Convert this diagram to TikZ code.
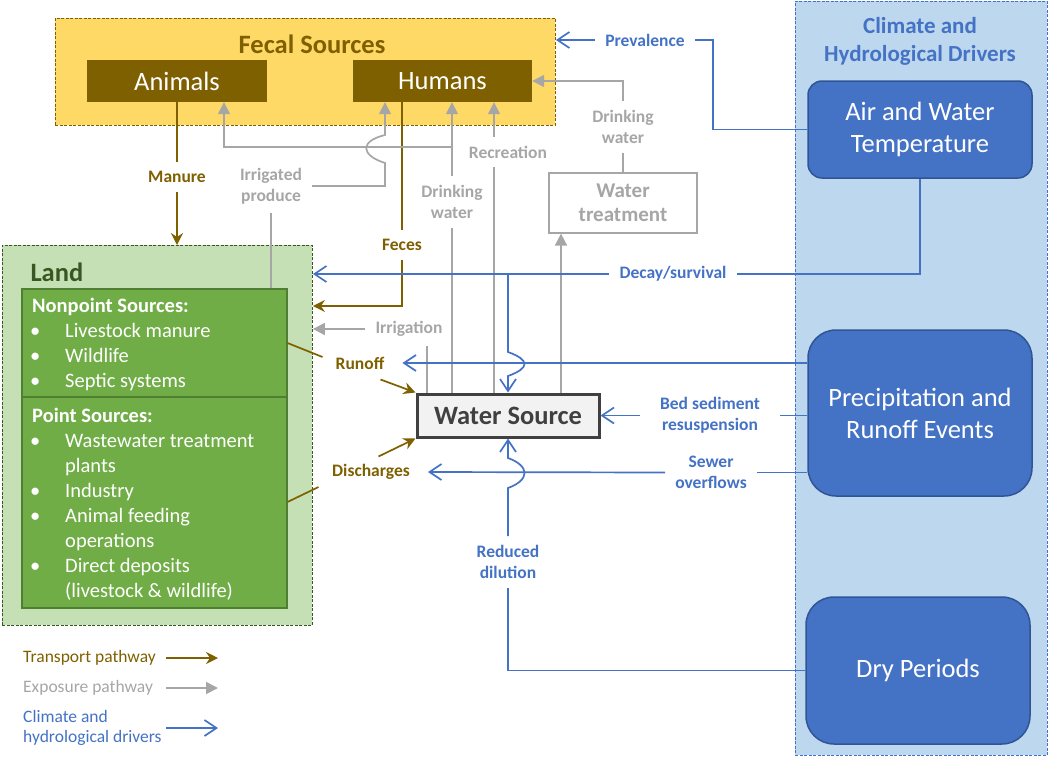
\documentclass[tikz,border=0pt]{standalone}
\usepackage{fontspec}
\setmainfont{Carlito}
\usetikzlibrary{arrows.meta,positioning,calc}

\definecolor{fecalbrown}{HTML}{7F6000}
\definecolor{fecalfill}{HTML}{FFD966}
\definecolor{landfill}{HTML}{C5E0B4}
\definecolor{landgreen}{HTML}{70AD47}
\definecolor{landedge}{HTML}{507E32}
\definecolor{landdark}{HTML}{385723}
\definecolor{expgray}{HTML}{A6A6A6}
\definecolor{driverblue}{HTML}{4472C4}
\definecolor{driveredge}{HTML}{2F5597}
\definecolor{climfill}{HTML}{BDD7EE}
\definecolor{wsfill}{HTML}{F2F2F2}
\definecolor{wsedge}{HTML}{404040}

\newcommand{\fsize}[2]{\fontsize{#1}{#2}\selectfont}
\newcommand{\bul}{\makebox[33pt][l]{\hspace{-2pt}\textbullet}}

\tikzset{
  group/.style={draw, dash pattern=on 3pt off 1.5pt, line width=0.9pt, anchor=north west, inner sep=0pt},
  source/.style={fill=fecalbrown, text=white, font=\fsize{26.5}{30}, minimum width=180pt, minimum height=42pt, inner sep=0pt},
  listbox/.style={fill=landgreen, draw=landedge, line width=1.5pt, anchor=north west, minimum width=265pt, inner sep=0pt},
  listtext/.style={anchor=north west, text=white, font=\fsize{20.5}{25}, align=left, inner sep=0pt},
  driverbox/.style={fill=driverblue, draw=driveredge, line width=1.5pt, text=white, font=\fsize{26.5}{32}, align=center, minimum width=224pt, inner sep=0pt},
  lbl/.style={font=\fsize{17.5}{21}\bfseries, align=center, inner xsep=10pt, inner ysep=9pt},
  legend/.style={anchor=west, font=\fsize{17.5}{20}, align=left, inner sep=0pt},
  transport/.style={draw=fecalbrown, line width=1.7pt, >={Stealth[length=12pt,width=12pt,inset=4pt]}},
  exposure/.style={draw=expgray, line width=1.7pt, >={Triangle[length=12pt,width=12pt]}},
  driver/.style={draw=driverblue, line width=1.7pt, >={Straight Barb[length=12pt,width=16pt]}}
}

\begin{document}
\begin{tikzpicture}[x=1pt,y=-1pt]
\useasboundingbox (0,0) rectangle (1050,758);

% group boxes
\node[group, draw=fecalbrown, fill=fecalfill, minimum width=500pt, minimum height=107pt] (fecal) at (55,18) {};
\node[group, draw=landdark, fill=landfill, minimum width=310pt, minimum height=380pt] (land) at (2,245) {};
\node[group, draw=driverblue, fill=climfill, minimum width=252pt, minimum height=754pt] (climate) at (795,1) {};

% fecal sources
\node[font=\fsize{26.5}{30}\bfseries, text=fecalbrown] (fecaltitle) at (312,44) {Fecal Sources};
\node[source] (animals) at (177,81) {Animals};
\node[source, minimum width=179pt] (humans) at (442.5,81) {Humans};

% land
\node[font=\fsize{26.5}{30}\bfseries, text=landdark, anchor=west] (landtitle) at (27,272) {Land};
\node[listbox, minimum height=108pt] (nps) at (21,288) {};
\node[listbox, minimum height=211pt] (ps) at (21,396) {};
\node[listtext] (npstext) at (32,297.5) {\textbf{Nonpoint Sources:}\\
  \bul Livestock manure\\ \bul Wildlife\\ \bul Septic systems};
\node[listtext] (pstext) at (32,407.5) {\textbf{Point Sources:}\\
  \bul Wastewater treatment\\ \hspace*{33pt}plants\\ \bul Industry\\
  \bul Animal feeding\\ \hspace*{33pt}operations\\ \bul Direct deposits\\
  \hspace*{33pt}(livestock \& wildlife)};

% water
\node[draw=wsedge, fill=wsfill, line width=3pt, minimum width=182pt, minimum height=43pt, inner sep=0pt,
  font=\fsize{26.5}{30}\bfseries, text=wsedge] (ws) at (508,415.5) {Water Source};
\node[draw=expgray, fill=white, line width=1.2pt, minimum width=148pt, minimum height=60pt, inner sep=0pt,
  align=center, font=\fsize{21}{24}\bfseries, text=expgray] (treat) at (623,203) {Water\\treatment};

% drivers
\node[font=\fsize{23}{28}\bfseries, text=driverblue, align=center] (climtitle) at (920,41) {Climate and\\Hydrological Drivers};
\node[driverbox, minimum height=97pt, rounded corners=14pt] (air) at (920,129.5) {Air and Water\\Temperature};
\node[driverbox, minimum height=166pt, rounded corners=28pt] (precip) at (920,413) {Precipitation and\\Runoff Events};
\node[driverbox, minimum height=147pt, rounded corners=28pt] (dry) at (918,670.5) {Dry Periods};

% pathway labels
\node[lbl, text=fecalbrown] (manure) at (177,177) {Manure};
\node[lbl, text=fecalbrown] (feces) at (402,245) {Feces};
\node[lbl, text=fecalbrown] (runoff) at (360,363) {Runoff};
\node[lbl, text=fecalbrown] (disch) at (371,472) {Discharges};
\node[lbl, text=expgray] (produce) at (271,186) {Irrigated\\produce};
\node[lbl, text=expgray] (drink) at (452,202) {Drinking\\water};
\node[lbl, text=expgray] (recr) at (508,152) {Recreation};
\node[lbl, text=expgray] (drinktr) at (623,127) {Drinking\\water};
\node[lbl, text=expgray] (irrig) at (409,329) {Irrigation};
\node[lbl, text=driverblue] (prev) at (645,40) {Prevalence};
\node[lbl, text=driverblue] (decay) at (673,274) {Decay/survival};
\node[lbl, text=driverblue, inner xsep=20pt] (bed) at (710,415.5) {Bed sediment\\resuspension};
\node[lbl, text=driverblue] (sewer) at (711,472.5) {Sewer\\overflows};
\node[lbl, text=driverblue] (dilut) at (508,562) {Reduced\\dilution};

% lanes
\coordinate (animx) at (224,0);
\coordinate (prodx) at (385,0);
\coordinate (fecesx) at (402,0);
\coordinate (irrx) at (427,0);
\coordinate (drinkx) at (452,0);
\coordinate (recx) at (494,0);
\coordinate (treatx) at (561,0);

% transport pathways
\draw[transport] (animals.south) -- (manure.north);
\draw[transport,->] (manure.south) -- (land.north -| manure);
\draw[transport] (humans.south -| fecesx) -- (feces.north);
\draw[transport,->] (feces.south) |- (land.east |- 0,306);
\draw[transport] (nps.east |- 0,343) -- ++(35,14);
\draw[transport,->] ([shift={(-35,-13)}]ws.north west) -- (ws.north west);
\draw[transport] (ps.east |- 0,502) -- ++(31,-15);
\draw[transport,->] ([shift={(-37,18)}]ws.south west) -- (ws.south west);

% exposure pathways
\draw[exposure] (nps.north -| produce) -- (produce.south);
\draw[exposure,->] (produce.east) -| (prodx |- 0,163)
  .. controls (360,155) and (360,141) .. (prodx |- 0,135) -- (humans.south -| prodx);
\draw[exposure] (ws.north -| drinkx) -- (drink.south);
\draw[exposure,->] (drink.north) -- (humans.south -| drinkx);
\draw[exposure,->] (drinkx |- 0,147) -| (animals.south -| animx);
\draw[exposure] (ws.north -| recx) -- (recx |- recr.south);
\draw[exposure,->] (recx |- recr.north) -- (humans.south -| recx);
\draw[exposure,->] (ws.north -| treatx) -- (treat.south -| treatx);
\draw[exposure] (treat.north) -- (drinktr.south);
\draw[exposure,->] (drinktr.north) |- (humans.east);
\draw[exposure] (ws.north -| irrx) -- (irrx |- irrig.south);
\draw[exposure,->] (irrig.west) -- (land.east |- irrig);

% climate and hydrological drivers
\draw[driver] (air.west) -| ([xshift=18pt]prev.east) -- (prev.east);
\draw[driver,->] (prev.west) -- (fecal.east |- prev);
\draw[driver] (air.south) |- (decay.east);
\draw[driver,->] (decay.west) -- (land.east |- decay);
\draw[driver,->] (precip.west |- runoff) -- ([xshift=8pt]runoff.east);
\draw[driver,->] (ws.north |- decay) -- (ws.north |- 0,352)
  .. controls (530,360) and (530,368) .. (ws.north |- 0,376) -- (ws.north);
\draw[driver] (precip.west |- bed) -- (bed.east);
\draw[driver,->] (bed.west) -- (ws.east);
\draw[driver] (precip.west |- sewer) -- (sewer.east);
\draw[driver,->] (sewer.west) -- ([xshift=8pt]disch.east);
\draw[driver] (dry.west) -| (dilut.south);
\draw[driver,->] (dilut.north) -- (ws.south |- 0,488)
  .. controls (530,480) and (530,466) .. (ws.south |- 0,458) -- (ws.south);

% legend
\node[legend, text=fecalbrown] (legtrans) at (23,658) {Transport pathway};
\node[legend, text=expgray] (legexp) at (23,688) {Exposure pathway};
\node[legend, text=driverblue] (legdrv) at (23,728) {Climate and\\hydrological drivers};
\coordinate (legx) at (166,0);
\draw[transport,->] (legx |- legtrans) -- ++(52,0);
\draw[exposure,->] (legx |- legexp) -- ++(52,0);
\draw[driver,->] (legx |- legdrv) -- ++(52,0);
\end{tikzpicture}
\end{document}
